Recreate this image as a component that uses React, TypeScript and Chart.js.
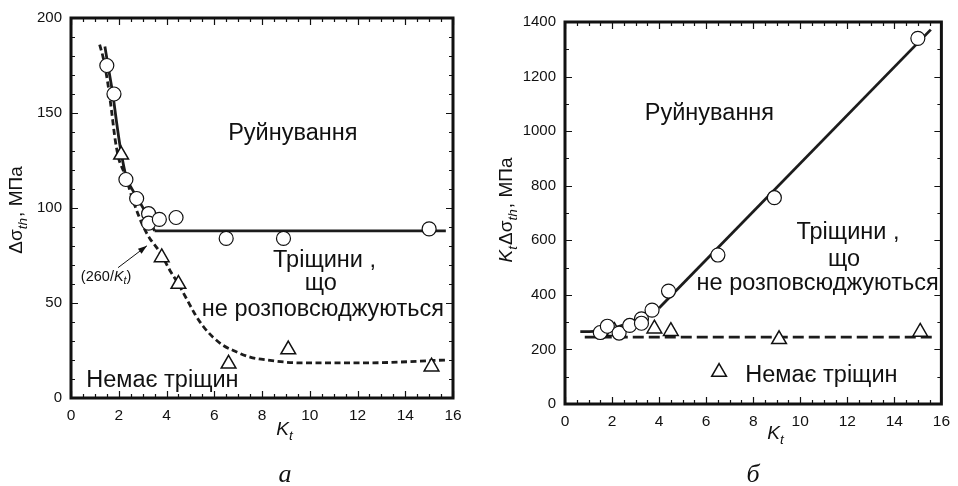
import React, { useEffect, useRef } from "react";
import { Chart, registerables } from "chart.js";
Chart.register(...registerables);

// ---------- Panel а ----------
const kA_circles = [1.5, 1.8, 2.3, 2.75, 3.25, 3.25, 3.7, 4.4, 6.5, 8.9, 15.0];
const sA_circles = [175, 160, 115, 105, 97, 92, 94, 95, 84, 84, 89];
const kA_tri = [2.1, 3.8, 4.5, 6.6, 9.1, 15.1];
const sA_tri = [128, 74, 60, 18, 25.5, 16.5];
const kA_solidCurve = [1.42, 1.55, 1.75, 1.9, 2.05, 2.3, 2.75, 3.15, 3.5];
const sA_solidCurve = [185, 175, 160, 146, 133, 117, 106, 97, 88];
const kA_solidFlat = [3.5, 15.7];
const sA_solidFlat = [88, 88];
const kA_dash = [1.2, 1.35, 1.55, 1.7, 1.85, 2.0, 2.25, 2.6, 3.0, 3.3, 3.6, 3.85, 4.15, 4.5, 4.85, 5.2, 5.55, 5.95, 6.4, 6.8, 7.5, 8.2, 9.6, 12.4, 15.7];
const sA_dash = [186, 179, 165, 151, 136, 126, 118, 104, 91, 84, 79, 74, 67, 60, 52, 44, 37.5, 32, 27.5, 25, 21.5, 20, 18.5, 18.5, 20];

// ---------- Panel б ----------
const kB_circles = [1.5, 1.8, 2.3, 2.75, 3.25, 3.25, 3.7, 4.4, 6.5, 8.9, 15.0];
const sB_circles = [262, 285, 260, 288, 312, 296, 344, 414, 546, 756, 1340];
const kB_tri = [2.1, 3.8, 4.5, 9.1, 15.1];
const sB_tri = [267, 276, 267, 237, 264];
const kB_legendTri = [6.55];
const sB_legendTri = [117];
const kB_solidCurve = [0.65, 1.2, 1.8, 2.4, 3.0, 3.5, 4.0];
const sB_solidCurve = [265, 266, 272, 287, 307, 328, 352];
const kB_solidLine = [4.0, 15.55];
const sB_solidLine = [352, 1372];
const kB_dash = [0.84, 15.66];
const sB_dash = [245, 245];

const xTicksMax = 16;
const yMaxA = 200;
const yMaxB = 1400;

const SANS = '"Liberation Sans", Arial, Helvetica, sans-serif';
const SERIF = '"Liberation Serif", "Times New Roman", serif';
const INK = "#111";
const TXT = 23.5;

type Seg = { s: string; it?: boolean; sub?: boolean };

const xy = (xs: number[], ys: number[]) => xs.map((x, i) => ({ x, y: ys[i] }));

function drawRich(ctx: CanvasRenderingContext2D, segs: Seg[], cx: number, cy: number, size: number, rot: boolean) {
  ctx.save();
  ctx.translate(cx, cy);
  if (rot) ctx.rotate(-Math.PI / 2);
  const subSize = size * 0.72;
  const fontOf = (sg: Seg) => `${sg.it ? "italic " : ""}${sg.sub ? subSize : size}px ${SANS}`;
  let w = 0;
  for (const sg of segs) {
    ctx.font = fontOf(sg);
    w += ctx.measureText(sg.s).width + (sg.sub ? 1 : 0);
  }
  let x = -w / 2;
  ctx.textAlign = "left";
  ctx.textBaseline = "alphabetic";
  ctx.fillStyle = INK;
  const base = size * 0.36;
  for (const sg of segs) {
    ctx.font = fontOf(sg);
    ctx.fillText(sg.s, x, base + (sg.sub ? size * 0.28 : 0));
    x += ctx.measureText(sg.s).width + (sg.sub ? 1 : 0);
  }
  ctx.restore();
}

type Label = { t: string; x: number; y: number; size: number };
type Deco = {
  labels: Label[];
  yMinor: number;
  yMajor: number;
  xTitle: { x: number; y: number };
  yTitle: { x: number; y: number; segs: Seg[] };
  panel: { t: string; x: number; y: number };
  arrow?: { text: Label; from: [number, number]; to: [number, number] };
};

function decoPlugin(d: Deco) {
  return {
    id: "deco",
    afterDraw(chart: any) {
      const ctx: CanvasRenderingContext2D = chart.ctx;
      const a = chart.chartArea;
      const xs = chart.scales.x;
      const ys = chart.scales.y;
      ctx.save();
      // ticks (inward) on all sides
      ctx.strokeStyle = INK;
      ctx.lineWidth = 1.2;
      ctx.beginPath();
      for (let v = 0; v <= xTicksMax + 1e-9; v += 0.5) {
        const px = Math.round(xs.getPixelForValue(v)) + 0.5;
        const len = Math.abs(v % 2) < 1e-9 ? 7 : 4;
        ctx.moveTo(px, a.bottom);
        ctx.lineTo(px, a.bottom - len);
        ctx.moveTo(px, a.top);
        ctx.lineTo(px, a.top + len);
      }
      for (let v = 0; v <= ys.max + 1e-9; v += d.yMinor) {
        const py = Math.round(ys.getPixelForValue(v)) + 0.5;
        const len = Math.abs(v % d.yMajor) < 1e-9 ? 7 : 4;
        ctx.moveTo(a.left, py);
        ctx.lineTo(a.left + len, py);
        ctx.moveTo(a.right, py);
        ctx.lineTo(a.right - len, py);
      }
      ctx.stroke();
      // frame
      ctx.lineWidth = 3;
      ctx.strokeRect(a.left, a.top, a.right - a.left, a.bottom - a.top);

      // region labels
      ctx.fillStyle = INK;
      ctx.textAlign = "center";
      ctx.textBaseline = "middle";
      for (const l of d.labels) {
        ctx.font = `${l.size}px ${SANS}`;
        ctx.fillText(l.t, xs.getPixelForValue(l.x), ys.getPixelForValue(l.y));
      }
      // arrow annotation
      if (d.arrow) {
        const t = d.arrow.text;
        const tx = xs.getPixelForValue(t.x);
        const ty = ys.getPixelForValue(t.y);
        const p1 = "(260/";
        const p2 = "K";
        const p3 = "t";
        const p4 = ")";
        ctx.font = `${t.size}px ${SANS}`;
        const w1 = ctx.measureText(p1).width;
        const w4 = ctx.measureText(p4).width;
        ctx.font = `italic ${t.size}px ${SANS}`;
        const w2 = ctx.measureText(p2).width;
        ctx.font = `italic ${t.size * 0.72}px ${SANS}`;
        const w3 = ctx.measureText(p3).width;
        let x0 = tx - (w1 + w2 + w3 + w4) / 2;
        ctx.textAlign = "left";
        ctx.textBaseline = "alphabetic";
        const bl = ty + t.size * 0.36;
        ctx.font = `${t.size}px ${SANS}`;
        ctx.fillText(p1, x0, bl); x0 += w1;
        ctx.font = `italic ${t.size}px ${SANS}`;
        ctx.fillText(p2, x0, bl); x0 += w2;
        ctx.font = `italic ${t.size * 0.72}px ${SANS}`;
        ctx.fillText(p3, x0, bl + t.size * 0.25); x0 += w3;
        ctx.font = `${t.size}px ${SANS}`;
        ctx.fillText(p4, x0, bl);
        const fx = xs.getPixelForValue(d.arrow.from[0]);
        const fy = ys.getPixelForValue(d.arrow.from[1]);
        const ex = xs.getPixelForValue(d.arrow.to[0]);
        const ey = ys.getPixelForValue(d.arrow.to[1]);
        ctx.lineWidth = 1;
        ctx.beginPath();
        ctx.moveTo(fx, fy);
        ctx.lineTo(ex, ey);
        ctx.stroke();
        const ang = Math.atan2(ey - fy, ex - fx);
        ctx.beginPath();
        ctx.moveTo(ex, ey);
        ctx.lineTo(ex - 9 * Math.cos(ang) + 3 * Math.sin(ang), ey - 9 * Math.sin(ang) - 3 * Math.cos(ang));
        ctx.lineTo(ex - 9 * Math.cos(ang) - 3 * Math.sin(ang), ey - 9 * Math.sin(ang) + 3 * Math.cos(ang));
        ctx.closePath();
        ctx.fill();
      }
      // axis titles
      drawRich(ctx, [{ s: "K", it: true }, { s: "t", it: true, sub: true }], d.xTitle.x, d.xTitle.y, 19, false);
      drawRich(ctx, d.yTitle.segs, d.yTitle.x, d.yTitle.y, 19, true);
      // panel letter
      ctx.font = `italic 26px ${SERIF}`;
      ctx.textAlign = "center";
      ctx.textBaseline = "alphabetic";
      ctx.fillStyle = INK;
      ctx.fillText(d.panel.t, d.panel.x, d.panel.y);
      ctx.restore();
    },
  };
}

const circleStyle = {
  pointStyle: "circle",
  pointRadius: 7,
  pointBackgroundColor: "#fff",
  pointBorderColor: INK,
  pointBorderWidth: 1.2,
  showLine: false,
  order: 0,
};
const triStyle = {
  pointStyle: "triangle",
  pointRadius: 8.5,
  pointBackgroundColor: "#fff",
  pointBorderColor: INK,
  pointBorderWidth: 1.5,
  showLine: false,
  order: 0,
};
const lineStyle = (dash: number[], smooth: boolean) => ({
  showLine: true,
  pointRadius: 0,
  borderColor: "#1c1c1c",
  borderWidth: 2.8,
  borderDash: dash,
  cubicInterpolationMode: smooth ? "monotone" : "default",
  tension: smooth ? 0.4 : 0,
  fill: false,
  order: 1,
});

function makeConfig(opts: {
  datasets: any[];
  yMax: number;
  yStep: number;
  yWidth: number;
  xHeight: number;
  padding: any;
  deco: Deco;
}) {
  return {
    type: "scatter",
    data: { datasets: opts.datasets },
    options: {
      animation: false,
      responsive: false,
      events: [],
      layout: { padding: opts.padding },
      plugins: { legend: { display: false }, tooltip: { enabled: false } },
      scales: {
        x: {
          type: "linear",
          min: 0,
          max: xTicksMax,
          grid: { display: false, drawTicks: false },
          border: { display: false },
          ticks: { stepSize: 2, autoSkip: false, color: INK, padding: 8, font: { family: SANS, size: 15.5 }, callback: (v: any) => String(v) },
          afterFit: (s: any) => { s.height = opts.xHeight; },
        },
        y: {
          type: "linear",
          min: 0,
          max: opts.yMax,
          grid: { display: false, drawTicks: false },
          border: { display: false },
          ticks: { stepSize: opts.yStep, autoSkip: false, color: INK, padding: 9, font: { family: SANS, size: 15 }, callback: (v: any) => String(v) },
          afterFit: (s: any) => { s.width = opts.yWidth; },
        },
      },
    },
    plugins: [decoPlugin(opts.deco)],
  };
}

function Panel({ cfg }: { cfg: any }) {
  const ref = useRef<HTMLCanvasElement>(null);
  useEffect(() => {
    const c = new Chart(ref.current as HTMLCanvasElement, cfg);
    return () => c.destroy();
  }, [cfg]);
  return <canvas ref={ref} width={479} height={486} style={{ display: "block", width: 479, height: 486 }} />;
}

const cfgA = makeConfig({
  datasets: [
    { ...circleStyle, data: xy(kA_circles, sA_circles) },
    { ...triStyle, data: xy(kA_tri, sA_tri) },
    { ...lineStyle([], true), data: xy(kA_solidCurve, sA_solidCurve) },
    { ...lineStyle([], false), data: xy(kA_solidFlat, sA_solidFlat) },
    { ...lineStyle([6, 3.5], true), data: xy(kA_dash, sA_dash) },
  ],
  yMax: yMaxA,
  yStep: 50,
  yWidth: 71,
  xHeight: 88,
  padding: { left: 0, right: 26, top: 16, bottom: 0 },
  deco: {
    labels: [
      { t: "Руйнування", x: 9.29, y: 139.4, size: TXT },
      { t: "Тріщини ,", x: 10.62, y: 72.3, size: TXT },
      { t: "що", x: 10.46, y: 60.2, size: TXT },
      { t: "не розповсюджуються", x: 10.55, y: 46.6, size: TXT },
      { t: "Немає тріщин", x: 3.83, y: 9.4, size: TXT },
    ],
    yMinor: 10,
    yMajor: 50,
    xTitle: { x: 285, y: 428 },
    yTitle: { x: 15, y: 210, segs: [{ s: "Δσ" }, { s: "th", it: true, sub: true }, { s: ", МПа" }] },
    panel: { t: "а", x: 285, y: 482 },
    arrow: { text: { t: "(260/Kt)", x: 1.47, y: 64.4, size: 14.5 }, from: [1.97, 68.6], to: [3.18, 80.1] },
  },
});

const cfgB = makeConfig({
  datasets: [
    { ...circleStyle, data: xy(kB_circles, sB_circles) },
    { ...triStyle, data: xy(kB_tri, sB_tri) },
    { ...triStyle, data: xy(kB_legendTri, sB_legendTri) },
    { ...lineStyle([], true), data: xy(kB_solidCurve, sB_solidCurve) },
    { ...lineStyle([], false), data: xy(kB_solidLine, sB_solidLine) },
    { ...lineStyle([11, 5], false), data: xy(kB_dash, sB_dash) },
  ],
  yMax: yMaxB,
  yStep: 200,
  yWidth: 86,
  xHeight: 82,
  padding: { left: 0, right: 10, top: 22, bottom: 0 },
  deco: {
    labels: [
      { t: "Руйнування", x: 6.14, y: 1063, size: TXT },
      { t: "Тріщини ,", x: 12.03, y: 627, size: TXT },
      { t: "що", x: 11.86, y: 528, size: TXT },
      { t: "не розповсюджуються", x: 10.74, y: 443, size: TXT },
      { t: "Немає тріщин", x: 10.9, y: 104, size: TXT },
    ],
    yMinor: 100,
    yMajor: 200,
    xTitle: { x: 297, y: 432 },
    yTitle: {
      x: 26,
      y: 210,
      segs: [{ s: "K", it: true }, { s: "t", it: true, sub: true }, { s: "Δσ" }, { s: "th", it: true, sub: true }, { s: ", МПа" }],
    },
    panel: { t: "б", x: 274, y: 482 },
  },
});

export default function App() {
  return (
    <div style={{ position: "absolute", left: 0, top: 0, width: 958, height: 486, background: "#fff", display: "flex" }}>
      <Panel cfg={cfgA} />
      <Panel cfg={cfgB} />
    </div>
  );
}
